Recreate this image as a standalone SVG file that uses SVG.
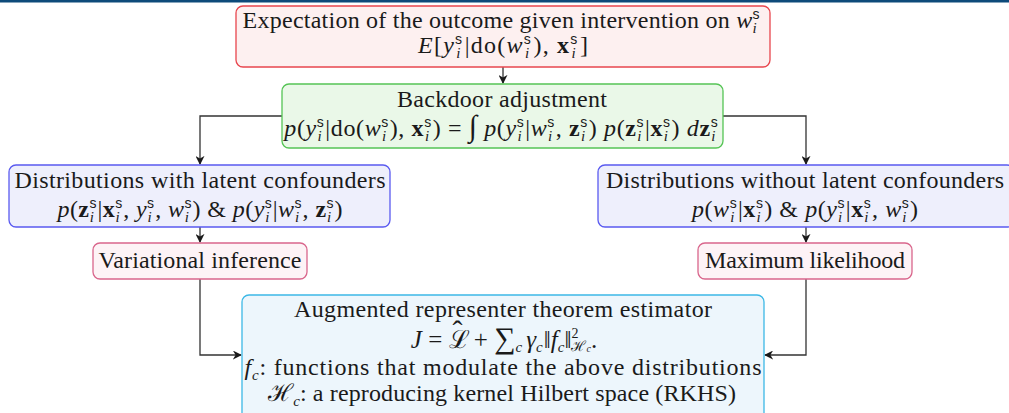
<svg xmlns="http://www.w3.org/2000/svg" width="1009" height="413" viewBox="0 0 1009 413">
<style>
text{font-family:"Liberation Serif","DejaVu Serif",serif;font-size:24px;fill:#1a1a1a;text-anchor:middle}
.it{font-style:italic}
.bf{font-weight:bold}
.s{font-family:"Liberation Sans","DejaVu Sans",sans-serif;font-size:14px}
.i{font-style:italic;font-size:15px}
.sm{font-size:14px}
.big{font-size:30px}
.conn{fill:none;stroke:#333;stroke-width:1.3}
.red{fill:#fdf0f0;stroke:#e8454d;stroke-width:1.3}
.green{fill:#eaf8e8;stroke:#55c455;stroke-width:1.3}
.blue{fill:#eeeffc;stroke:#5a5af0;stroke-width:1.3}
.pink{fill:#fdf3f6;stroke:#d9668c;stroke-width:1.3}
.cyan{fill:#edf6fc;stroke:#3cb8e6;stroke-width:1.3}
</style>
<defs>
<marker id="ah" viewBox="0 0 10 10" refX="9" refY="5" markerWidth="9" markerHeight="9" markerUnits="userSpaceOnUse" orient="auto">
<path d="M0,0 L10,5 L0,10 L3,5 Z" fill="#1a1a1a"/>
</marker>
</defs>
<rect x="0" y="0" width="1009" height="2.5" fill="#0d4a7a"/>
<g id="connectors">
<path class="conn" d="M503,67 V83" marker-end="url(#ah)"/>
<path class="conn" d="M282,116 H200 V164" marker-end="url(#ah)"/>
<path class="conn" d="M723,116 H806 V164" marker-end="url(#ah)"/>
<path class="conn" d="M200,227 V242" marker-end="url(#ah)"/>
<path class="conn" d="M806,227 V242" marker-end="url(#ah)"/>
<path class="conn" d="M200,279 V355 H241" marker-end="url(#ah)"/>
<path class="conn" d="M806,279 V355 H765" marker-end="url(#ah)"/>
</g>
<g id="expectation">
<rect class="red" x="236" y="6" width="534" height="61" rx="7"/>
<text x="501" y="28" textLength="517" lengthAdjust="spacing">Expectation of the outcome given intervention on <tspan class="it">w</tspan><tspan class="s" dy="-9">s</tspan><tspan class="i" dx="-7" dy="14">i</tspan></text>
<text x="503" y="53" textLength="170" lengthAdjust="spacing"><tspan class="it">E</tspan>[<tspan class="it">y</tspan><tspan class="s" dy="-9">s</tspan><tspan class="i" dx="-7" dy="14">i</tspan><tspan dx="3" dy="-5">|do(</tspan><tspan class="it">w</tspan><tspan class="s" dy="-9">s</tspan><tspan class="i" dx="-7" dy="14">i</tspan><tspan dx="3" dy="-5">), </tspan><tspan class="bf">x</tspan><tspan class="s" dy="-9">s</tspan><tspan class="i" dx="-7" dy="14">i</tspan><tspan dx="3" dy="-5">]</tspan></text>
</g>
<g id="backdoor">
<rect class="green" x="282" y="84" width="441" height="64" rx="7"/>
<text x="502" y="107" textLength="210" lengthAdjust="spacing">Backdoor adjustment</text>
<text x="501" y="136" textLength="434" lengthAdjust="spacing"><tspan class="it">p</tspan>(<tspan class="it">y</tspan><tspan class="s" dy="-9">s</tspan><tspan class="i" dx="-7" dy="14">i</tspan><tspan dx="3" dy="-5">|do(</tspan><tspan class="it">w</tspan><tspan class="s" dy="-9">s</tspan><tspan class="i" dx="-7" dy="14">i</tspan><tspan dx="3" dy="-5">), </tspan><tspan class="bf">x</tspan><tspan class="s" dy="-9">s</tspan><tspan class="i" dx="-7" dy="14">i</tspan><tspan dx="3" dy="-5">) = </tspan><tspan class="big it">∫</tspan><tspan> </tspan><tspan class="it">p</tspan>(<tspan class="it">y</tspan><tspan class="s" dy="-9">s</tspan><tspan class="i" dx="-7" dy="14">i</tspan><tspan dx="3" dy="-5">|</tspan><tspan class="it">w</tspan><tspan class="s" dy="-9">s</tspan><tspan class="i" dx="-7" dy="14">i</tspan><tspan dx="3" dy="-5">, </tspan><tspan class="bf">z</tspan><tspan class="s" dy="-9">s</tspan><tspan class="i" dx="-7" dy="14">i</tspan><tspan dx="3" dy="-5">) </tspan><tspan class="it">p</tspan>(<tspan class="bf">z</tspan><tspan class="s" dy="-9">s</tspan><tspan class="i" dx="-7" dy="14">i</tspan><tspan dx="3" dy="-5">|</tspan><tspan class="bf">x</tspan><tspan class="s" dy="-9">s</tspan><tspan class="i" dx="-7" dy="14">i</tspan><tspan dx="3" dy="-5">) </tspan><tspan class="it">d</tspan><tspan class="bf">z</tspan><tspan class="s" dy="-9">s</tspan><tspan class="i" dx="-7" dy="14">i</tspan></text>
</g>
<g id="with-latent">
<rect class="blue" x="9" y="165" width="381" height="62" rx="7"/>
<text x="200" y="188" textLength="371" lengthAdjust="spacing">Distributions with latent confounders</text>
<text x="200" y="217" textLength="285" lengthAdjust="spacing"><tspan class="it">p</tspan>(<tspan class="bf">z</tspan><tspan class="s" dy="-9">s</tspan><tspan class="i" dx="-7" dy="14">i</tspan><tspan dx="3" dy="-5">|</tspan><tspan class="bf">x</tspan><tspan class="s" dy="-9">s</tspan><tspan class="i" dx="-7" dy="14">i</tspan><tspan dx="3" dy="-5">, </tspan><tspan class="it">y</tspan><tspan class="s" dy="-9">s</tspan><tspan class="i" dx="-7" dy="14">i</tspan><tspan dx="3" dy="-5">, </tspan><tspan class="it">w</tspan><tspan class="s" dy="-9">s</tspan><tspan class="i" dx="-7" dy="14">i</tspan><tspan dx="3" dy="-5">) &amp; </tspan><tspan class="it">p</tspan>(<tspan class="it">y</tspan><tspan class="s" dy="-9">s</tspan><tspan class="i" dx="-7" dy="14">i</tspan><tspan dx="3" dy="-5">|</tspan><tspan class="it">w</tspan><tspan class="s" dy="-9">s</tspan><tspan class="i" dx="-7" dy="14">i</tspan><tspan dx="3" dy="-5">, </tspan><tspan class="bf">z</tspan><tspan class="s" dy="-9">s</tspan><tspan class="i" dx="-7" dy="14">i</tspan><tspan dx="3" dy="-5">)</tspan></text>
</g>
<g id="without-latent">
<rect class="blue" x="598" y="165" width="416" height="62" rx="7"/>
<text x="805" y="188" textLength="398" lengthAdjust="spacing">Distributions without latent confounders</text>
<text x="805" y="217" textLength="226" lengthAdjust="spacing"><tspan class="it">p</tspan>(<tspan class="it">w</tspan><tspan class="s" dy="-9">s</tspan><tspan class="i" dx="-7" dy="14">i</tspan><tspan dx="3" dy="-5">|</tspan><tspan class="bf">x</tspan><tspan class="s" dy="-9">s</tspan><tspan class="i" dx="-7" dy="14">i</tspan><tspan dx="3" dy="-5">) &amp; </tspan><tspan class="it">p</tspan>(<tspan class="it">y</tspan><tspan class="s" dy="-9">s</tspan><tspan class="i" dx="-7" dy="14">i</tspan><tspan dx="3" dy="-5">|</tspan><tspan class="bf">x</tspan><tspan class="s" dy="-9">s</tspan><tspan class="i" dx="-7" dy="14">i</tspan><tspan dx="3" dy="-5">, </tspan><tspan class="it">w</tspan><tspan class="s" dy="-9">s</tspan><tspan class="i" dx="-7" dy="14">i</tspan><tspan dx="3" dy="-5">)</tspan></text>
</g>
<g id="variational">
<rect class="pink" x="93" y="243" width="214" height="36" rx="7"/>
<text x="200" y="268" textLength="203" lengthAdjust="spacing">Variational inference</text>
</g>
<g id="max-likelihood">
<rect class="pink" x="698" y="243" width="214" height="36" rx="7"/>
<text x="805" y="268" textLength="200" lengthAdjust="spacing">Maximum likelihood</text>
</g>
<g id="estimator">
<rect class="cyan" x="242" y="295" width="522" height="130" rx="7"/>
<text x="503" y="317" textLength="418" lengthAdjust="spacing">Augmented representer theorem estimator</text>
<text x="504" y="348" style="font-size:25px"><tspan class="it">J</tspan> = ℒ<tspan dx="-17" dy="-7" style="font-size:30px">ˆ</tspan><tspan dx="5" dy="7"> + </tspan><tspan class="big">∑</tspan><tspan class="i" dy="4">c</tspan><tspan dx="4" dy="-4" class="it">γ</tspan><tspan class="i" dy="4">c</tspan><tspan dx="1" dy="-4">‖</tspan><tspan class="it">f</tspan><tspan class="i" dy="4">c</tspan><tspan dy="-4">‖</tspan><tspan class="sm" dy="-10">2</tspan><tspan class="sm" dx="-7" dy="13">ℋ</tspan><tspan class="i" dy="1" style="font-size:10px">c</tspan><tspan dy="-4">.</tspan></text>
<text x="503" y="375" textLength="517" lengthAdjust="spacing"><tspan class="it">f</tspan><tspan class="i" dy="5">c</tspan><tspan dy="-5">: functions that modulate the above distributions</tspan></text>
<text x="502" y="401" textLength="468" lengthAdjust="spacing">ℋ<tspan class="i" dy="5">c</tspan><tspan dy="-5">: a reproducing kernel Hilbert space (RKHS)</tspan></text>
</g>
</svg>
